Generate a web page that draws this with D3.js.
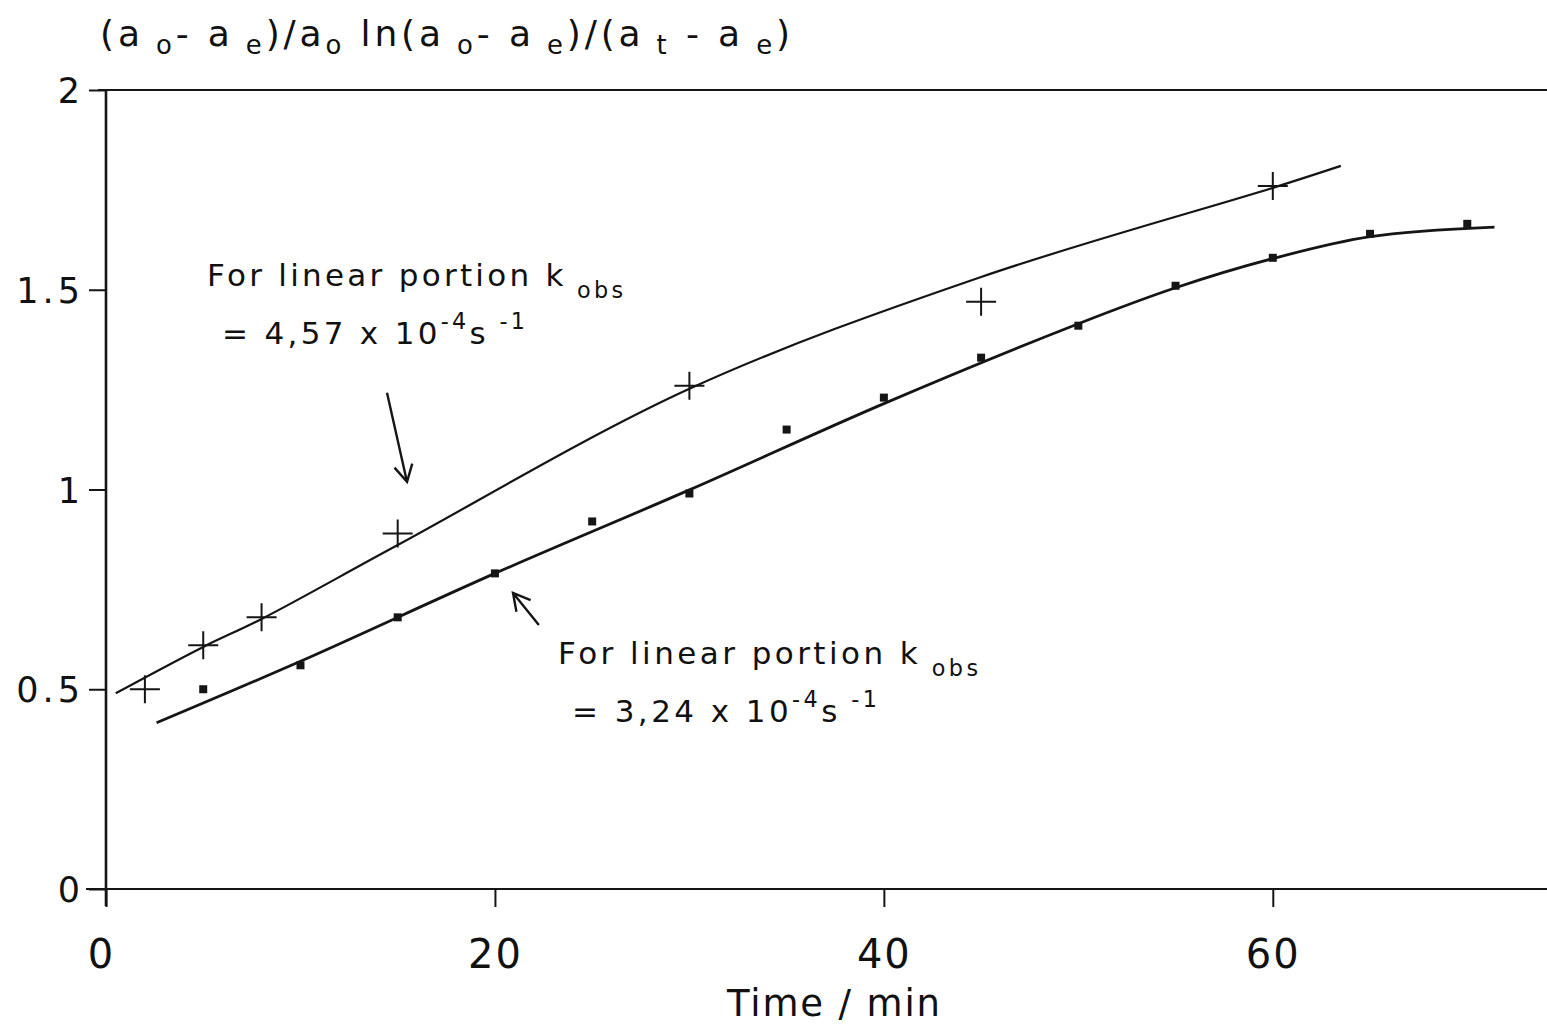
<!DOCTYPE html>
<html>
<head>
<meta charset="utf-8">
<script src="https://cdn.jsdelivr.net/npm/d3@7"></script>
<style>
  html, body { margin: 0; padding: 0; background: #fff; }
  svg { display: block; }
  text { font-family: "DejaVu Sans", "Liberation Sans", sans-serif; fill: #111; white-space: pre; }
</style>
</head>
<body>
<div id="chart"></div>
<script>
// measured points, upper series (crosses) and lower series (squares)
var crossTime  = [2, 5, 8, 15, 30, 45, 60];
var crossValue = [0.50, 0.61, 0.68, 0.89, 1.26, 1.47, 1.76];

var squareTime  = [5, 10, 15, 20, 25, 30, 35, 40, 45, 50, 55, 60, 65, 70];
var squareValue = [0.50, 0.56, 0.68, 0.79, 0.92, 0.99, 1.15, 1.23, 1.33, 1.41, 1.51, 1.58, 1.64, 1.665];

// fitted curves drawn through the data
var upperFitTime  = [0.5, 5, 8, 15, 30, 45, 60, 63.5];
var upperFitValue = [0.49, 0.606, 0.676, 0.861, 1.252, 1.532, 1.755, 1.81];

var lowerFitTime  = [2.6, 10, 20, 30, 40, 50, 55, 60, 65, 71.4];
var lowerFitValue = [0.416, 0.57, 0.79, 0.999, 1.215, 1.415, 1.505, 1.578, 1.633, 1.657];

var xTicks = [0, 20, 40, 60];
var yTicks = [0, 0.5, 1, 1.5, 2];

var W = 1547, H = 1024;

var x = d3.scaleLinear().domain([0, 74.1]).range([106, 1547]);
var y = d3.scaleLinear().domain([0, 2]).range([889, 90]);

var svg = d3.select("#chart").append("svg")
    .attr("width", W)
    .attr("height", H);

var ink = "#151515";

// writes a line of text made of normal, subscript and superscript pieces
function richText(parent, parts, size, px, py, width, subShift) {
    var t = parent.append("text")
        .attr("x", px)
        .attr("y", py)
        .attr("font-size", size);
    var shift = 0;
    parts.forEach(function(p) {
        var off = p[1] === "sub" ? size * (subShift || 0.38) : p[1] === "sup" ? -size * 0.5 : 0;
        t.append("tspan")
            .attr("dy", off - shift)
            .attr("font-size", p[1] === "n" ? size : size * 0.72)
            .text(p[0]);
        shift = off;
    });
    if (width) t.attr("textLength", width).attr("lengthAdjust", "spacing");
    return t;
}

// axes
var xAxis = d3.axisBottom(x).tickValues(xTicks).tickSize(18).tickPadding(33)
    .tickFormat(d3.format("d"));
var yAxis = d3.axisLeft(y).tickValues(yTicks).tickSize(17).tickPadding(9)
    .tickFormat(function(d) { return String(d); });

var gx = svg.append("g").attr("transform", "translate(0," + y(0) + ")").call(xAxis);
var gy = svg.append("g").attr("transform", "translate(" + x(0) + ",0)").call(yAxis);

[gx, gy].forEach(function(g) {
    g.select(".domain").remove();
    g.selectAll(".tick line").attr("stroke", ink).attr("stroke-width", 2);
    g.selectAll(".tick text").attr("fill", ink).attr("font-family", null);
});
gx.selectAll(".tick text").attr("font-size", 40).attr("letter-spacing", 2)
    .attr("dx", function(d) { return d === 0 ? -5 : 0; });
gy.selectAll(".tick text").attr("font-size", 35).attr("letter-spacing", 4)
    .attr("dx", 4).attr("dy", "0.36em");

// frame lines: x axis, y axis and the top rule
svg.append("line")
    .attr("x1", 86).attr("x2", W)
    .attr("y1", y(0)).attr("y2", y(0))
    .attr("stroke", ink).attr("stroke-width", 2.2);
svg.append("line")
    .attr("x1", x(0)).attr("x2", x(0))
    .attr("y1", y(2)).attr("y2", y(0) + 17)
    .attr("stroke", ink).attr("stroke-width", 2.6);
svg.append("line")
    .attr("x1", x(0) - 8).attr("x2", W)
    .attr("y1", y(2)).attr("y2", y(2))
    .attr("stroke", ink).attr("stroke-width", 2);

// fitted curves
var line = d3.line()
    .x(function(d) { return x(d[0]); })
    .y(function(d) { return y(d[1]); })
    .curve(d3.curveCatmullRom.alpha(0.5));

svg.append("path")
    .datum(d3.zip(upperFitTime, upperFitValue))
    .attr("d", line)
    .attr("fill", "none").attr("stroke", ink).attr("stroke-width", 2.2);

svg.append("path")
    .datum(d3.zip(lowerFitTime, lowerFitValue))
    .attr("d", line)
    .attr("fill", "none").attr("stroke", ink).attr("stroke-width", 2.8);

// markers
svg.append("g").selectAll("path")
    .data(d3.zip(crossTime, crossValue))
    .enter().append("path")
        .attr("transform", function(d) { return "translate(" + x(d[0]) + "," + y(d[1]) + ")"; })
        .attr("d", "M-15,0H15M0,-14V14")
        .attr("stroke", ink).attr("stroke-width", 2);

svg.append("g").selectAll("rect")
    .data(d3.zip(squareTime, squareValue))
    .enter().append("rect")
        .attr("x", function(d) { return x(d[0]) - 4; })
        .attr("y", function(d) { return y(d[1]) - 4; })
        .attr("width", 8).attr("height", 8)
        .attr("fill", ink);

// arrows pointing from the notes to each curve
var arrowTail = [[14.45, 1.242], [22.26, 0.661]];
var arrowTip  = [[15.48, 1.019], [20.93, 0.741]];

arrowTail.forEach(function(tail, i) {
    var tip = arrowTip[i];
    var x1 = x(tail[0]), y1 = y(tail[1]), x2 = x(tip[0]), y2 = y(tip[1]);
    var a = Math.atan2(y2 - y1, x2 - x1), len = 19, spread = 0.5;
    svg.append("path")
        .attr("d", "M" + x1 + "," + y1 + "L" + x2 + "," + y2 +
            "M" + (x2 - len * Math.cos(a - spread)) + "," + (y2 - len * Math.sin(a - spread)) +
            "L" + x2 + "," + y2 +
            "L" + (x2 - len * Math.cos(a + spread)) + "," + (y2 - len * Math.sin(a + spread)))
        .attr("fill", "none").attr("stroke", ink).attr("stroke-width", 2.4)
        .attr("stroke-linejoin", "miter");
});

// notes
richText(svg, [["For linear portion k", "n"], [" obs", "sub"]], 31, 207, 286, 416);
richText(svg, [["= 4,57 x 10", "n"], ["-4", "sup"], ["s", "n"], [" -1", "sup"]], 31, 222, 344, 303);
richText(svg, [["For linear portion k", "n"], [" obs", "sub"]], 31, 558, 664, 420);
richText(svg, [["= 3,24 x 10", "n"], ["-4", "sup"], ["s", "n"], [" -1", "sup"]], 31, 572, 722, 305);

// y axis title
richText(svg, [
    ["(a", "n"], [" o", "sub"], ["- a", "n"], [" e", "sub"], [")/a", "n"], ["o", "sub"],
    [" ln(a", "n"], [" o", "sub"], ["- a", "n"], [" e", "sub"], [")/(a", "n"], [" t", "sub"],
    [" - a", "n"], [" e", "sub"], [")", "n"]
], 36, 100, 46, 690, 0.22);

// x axis title
svg.append("text")
    .attr("x", 727).attr("y", 1016)
    .attr("font-size", 37)
    .attr("textLength", 213).attr("lengthAdjust", "spacing")
    .text("Time / min");
</script>
</body>
</html>
